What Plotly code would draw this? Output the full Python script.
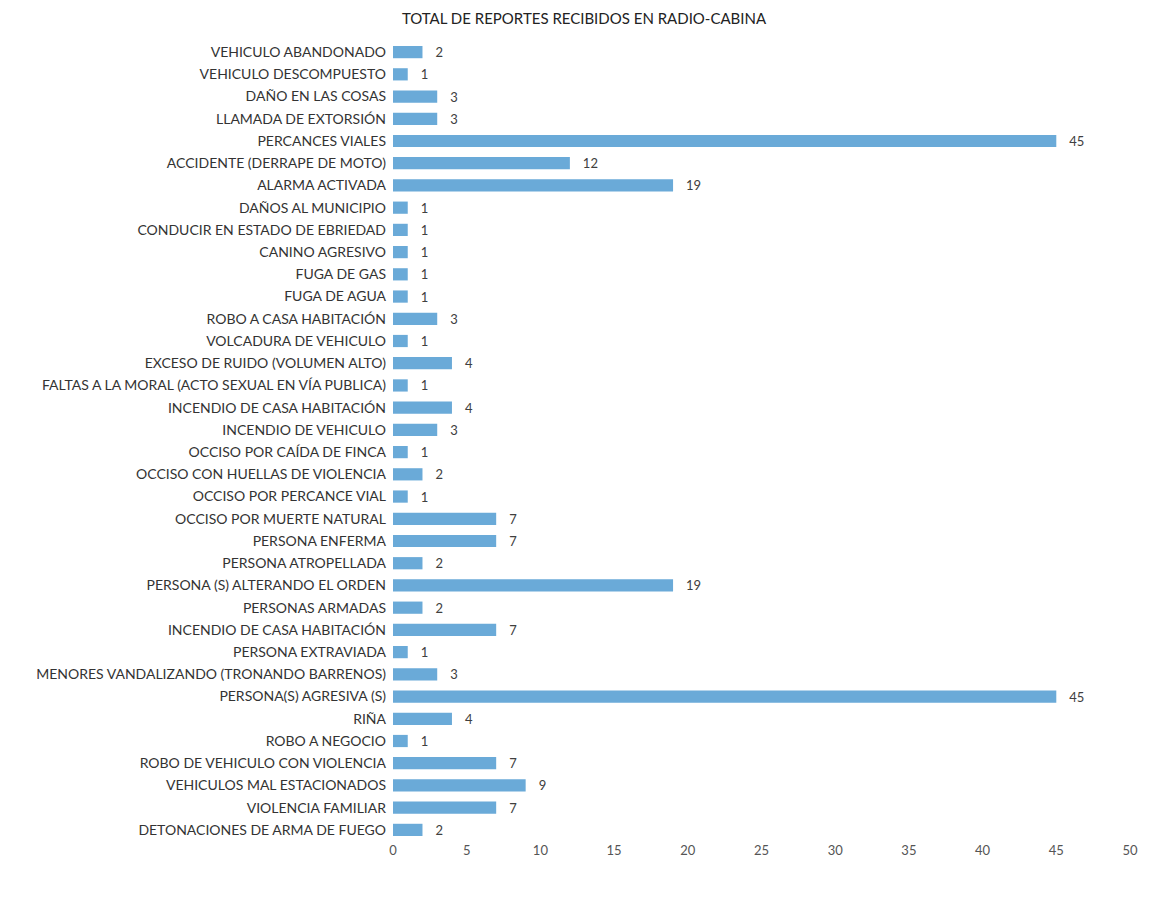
import plotly.graph_objects as go

categories = [
    "VEHICULO ABANDONADO", "VEHICULO DESCOMPUESTO", "DAÑO EN LAS COSAS",
    "LLAMADA DE EXTORSIÓN", "PERCANCES VIALES", "ACCIDENTE (DERRAPE DE MOTO)",
    "ALARMA ACTIVADA", "DAÑOS AL MUNICIPIO", "CONDUCIR EN ESTADO DE EBRIEDAD",
    "CANINO AGRESIVO", "FUGA DE GAS", "FUGA DE AGUA", "ROBO A CASA HABITACIÓN",
    "VOLCADURA DE VEHICULO", "EXCESO DE RUIDO (VOLUMEN ALTO)",
    "FALTAS A LA MORAL (ACTO SEXUAL EN VÍA PUBLICA)", "INCENDIO DE CASA HABITACIÓN",
    "INCENDIO DE VEHICULO", "OCCISO POR CAÍDA DE FINCA", "OCCISO CON HUELLAS DE VIOLENCIA",
    "OCCISO POR PERCANCE VIAL", "OCCISO POR MUERTE NATURAL", "PERSONA ENFERMA",
    "PERSONA ATROPELLADA", "PERSONA (S) ALTERANDO EL ORDEN", "PERSONAS ARMADAS",
    "INCENDIO DE CASA HABITACIÓN", "PERSONA EXTRAVIADA",
    "MENORES VANDALIZANDO (TRONANDO BARRENOS)", "PERSONA(S) AGRESIVA (S)", "RIÑA",
    "ROBO A NEGOCIO", "ROBO DE VEHICULO CON VIOLENCIA", "VEHICULOS MAL ESTACIONADOS",
    "VIOLENCIA FAMILIAR", "DETONACIONES DE ARMA DE FUEGO",
]
values = [2, 1, 3, 3, 45, 12, 19, 1, 1, 1, 1, 1, 3, 1, 4, 1, 4, 3, 1, 2, 1, 7, 7,
          2, 19, 2, 7, 1, 3, 45, 4, 1, 7, 9, 7, 2]
x_ticks = [0, 5, 10, 15, 20, 25, 30, 35, 40, 45, 50]

positions = list(range(len(categories)))

font_family = "Lato, 'Open Sans', sans-serif"

fig = go.Figure(go.Bar(
    x=values,
    y=positions,
    orientation="h",
    width=0.55,
    marker=dict(color="#6aaad8", line=dict(width=0)),
    text=["   " + str(v) for v in values],
    textposition="outside",
    constraintext="none",
    textfont=dict(size=13, color="#404040", family=font_family),
    cliponaxis=False,
))

fig.update_layout(
    width=1152, height=899,
    paper_bgcolor="white", plot_bgcolor="white",
    margin=dict(l=385, r=30, t=33, b=66),
    title=dict(text="TOTAL DE REPORTES RECIBIDOS EN RADIO-CABINA",
               x=0.5, xanchor="center", y=0.988, yanchor="middle",
               font=dict(size=15, color="#222222", family=font_family)),
    font=dict(family=font_family, size=14, color="#404040"),
    showlegend=False,
)
fig.update_xaxes(range=[0, 50], tickvals=x_ticks, showgrid=False, zeroline=False,
                 showline=False, ticks="", tickfont=dict(size=13, color="#555555"))
fig.update_yaxes(tickvals=positions, ticktext=categories, autorange="reversed",
                 showgrid=False, zeroline=False, showline=False,
                 ticks="", ticklabelstandoff=6,
                 tickfont=dict(size=14, color="#333333"))

fig.write_html("out.html")
